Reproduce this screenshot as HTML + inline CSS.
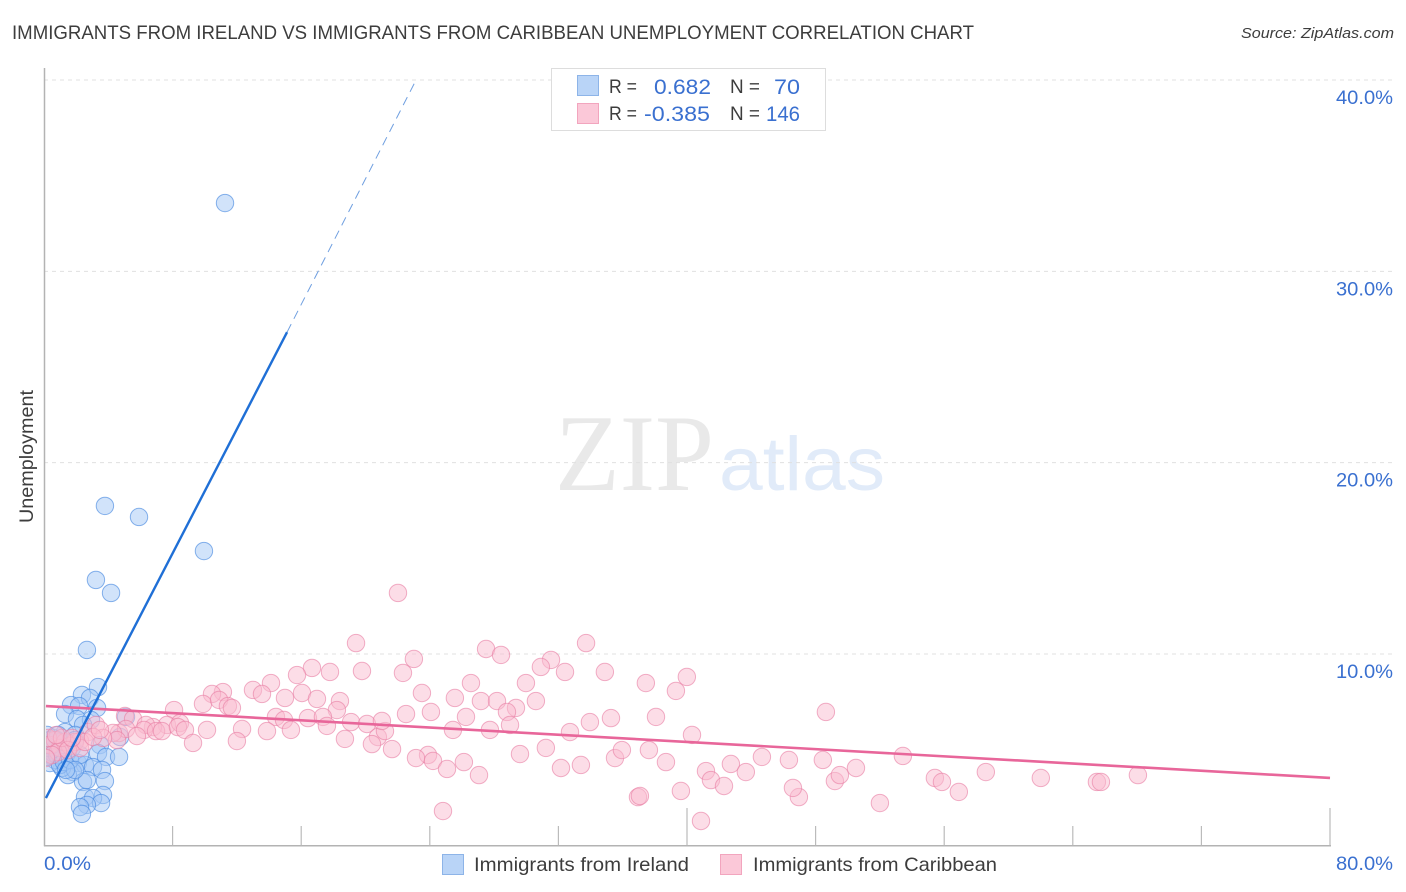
<!DOCTYPE html>
<html lang="en">
<head>
<meta charset="utf-8">
<title>Immigrants from Ireland vs Immigrants from Caribbean Unemployment Correlation Chart</title>
<style>
html,body{margin:0;padding:0;background:#fff;width:1406px;height:892px;overflow:hidden}
svg{display:block;font-family:"Liberation Sans",sans-serif}
</style>
</head>
<body>
<svg id="chart" width="1406" height="892" viewBox="0 0 1406 892" xmlns="http://www.w3.org/2000/svg">
  <defs>
    <clipPath id="plot-clip"><rect x="46" y="60" width="1290" height="785"/></clipPath>
  </defs>
  <rect x="0" y="0" width="1406" height="892" fill="#ffffff"/>
  <text x="12" y="39" font-size="19.5" fill="#3d3d3d" textLength="962" lengthAdjust="spacingAndGlyphs">IMMIGRANTS FROM IRELAND VS IMMIGRANTS FROM CARIBBEAN UNEMPLOYMENT CORRELATION CHART</text>
  <text x="1241" y="38" font-size="15" font-style="italic" fill="#3d3d3d" textLength="153" lengthAdjust="spacingAndGlyphs">Source: ZipAtlas.com</text>

  <g>
    <text x="555" y="490" font-family="'Liberation Serif',serif" font-size="109" fill="#e9e9e9" textLength="159" lengthAdjust="spacingAndGlyphs">ZIP</text>
    <text x="719" y="490" font-size="76" fill="#e1ebf9" textLength="166" lengthAdjust="spacingAndGlyphs">atlas</text>
  </g>

  <g id="grid"></g>
  <g id="axes"></g>
  <g id="ireland-points" clip-path="url(#plot-clip)"></g>
  <g id="caribbean-points" clip-path="url(#plot-clip)"></g>
  <g id="trends"></g>
  <g id="tick-labels"></g>

  <text transform="translate(33,456.5) rotate(-90)" text-anchor="middle" font-size="19" fill="#3d3d3d" textLength="133" lengthAdjust="spacingAndGlyphs">Unemployment</text>

  <g>
    <rect x="551.5" y="68.5" width="274" height="62" fill="#ffffff" stroke="#dddddd" stroke-width="1"/>
    <rect x="577.5" y="75.5" width="21" height="20" fill="#b9d4f7" stroke="#8db4e8"/>
    <rect x="577.5" y="103.5" width="21" height="20" fill="#fbc8d8" stroke="#f2a5be"/>
    <text x="609" y="93" font-size="19" fill="#3d3d3d" textLength="28" lengthAdjust="spacingAndGlyphs">R =</text>
    <text x="654" y="94" font-size="21.5" fill="#3a70d0" textLength="57" lengthAdjust="spacingAndGlyphs">0.682</text>
    <text x="730" y="93" font-size="19" fill="#3d3d3d" textLength="30" lengthAdjust="spacingAndGlyphs">N =</text>
    <text x="774" y="94" font-size="21.5" fill="#3a70d0" textLength="26" lengthAdjust="spacingAndGlyphs">70</text>
    <text x="609" y="120" font-size="19" fill="#3d3d3d" textLength="28" lengthAdjust="spacingAndGlyphs">R =</text>
    <text x="644" y="121" font-size="21.5" fill="#3a70d0" textLength="66" lengthAdjust="spacingAndGlyphs">-0.385</text>
    <text x="730" y="120" font-size="19" fill="#3d3d3d" textLength="30" lengthAdjust="spacingAndGlyphs">N =</text>
    <text x="766" y="121" font-size="21.5" fill="#3a70d0" textLength="34" lengthAdjust="spacingAndGlyphs">146</text>
  </g>

  <g>
    <g>
      <rect x="442.5" y="854.5" width="21" height="20" fill="#b9d4f7" stroke="#8db4e8"/>
      <text x="474" y="871" font-size="19.5" fill="#3d3d3d" textLength="215" lengthAdjust="spacingAndGlyphs">Immigrants from Ireland</text>
    </g>
    <g>
      <rect x="720.5" y="854.5" width="21" height="20" fill="#fbc8d8" stroke="#f2a5be"/>
      <text x="753" y="871" font-size="19.5" fill="#3d3d3d" textLength="244" lengthAdjust="spacingAndGlyphs">Immigrants from Caribbean</text>
    </g>
  </g>
</svg>

<script>
const yTickValues = [10, 20, 30, 40];
const xMinorTicks = [8, 16, 24, 32, 48, 56, 64, 72];
const xMajorTicks = [40, 80];
const xEdgeLabels = [0, 80];

const irelandTrendX = [0.12, 15.12, 23.14];
const irelandTrendY = [2.47, 26.82, 39.99];
const caribbeanTrendX = [0.12, 80];
const caribbeanTrendY = [7.28, 3.52];

const irelandPoints = [
[11.26,33.57],[3.79,17.74],[5.91,17.16],[9.95,15.38],[3.23,13.87],[4.17,13.19],[2.67,10.21],
[3.36,8.27],[2.36,7.86],[2.86,7.70],[3.30,7.18],[1.68,7.33],[2.18,7.28],[1.31,6.86],[2.05,6.60],
[2.92,6.55],[5.10,6.71],[2.43,6.29],[1.31,5.92],[1.93,5.77],[0.56,5.61],[4.73,5.66],[3.48,5.24],
[3.36,4.82],[3.86,4.62],[4.67,4.62],[2.11,4.30],[2.55,4.20],[3.05,4.09],[3.61,3.94],[1.80,3.83],
[1.49,3.67],[1.12,4.04],[2.43,3.31],[2.67,3.41],[3.79,3.36],[3.67,2.63],[2.55,2.52],[3.05,2.47],
[3.55,2.21],[2.67,2.11],[2.24,2.00],[2.36,1.64],[0.37,5.50],[0.68,5.14],[0.37,4.72],[0.68,4.46],
[1.12,4.62],[1.49,5.35],[1.93,5.50],[0.37,4.30],[1.18,5.09],[0.56,4.82],[0.81,5.50],[1.43,4.82],
[0.25,5.09],[0.81,4.72],[1.00,4.20],[0.19,5.77],[0.50,5.24],[1.00,5.40],[1.74,5.09],[0.12,4.62],
[1.24,4.35],[1.62,4.46],[0.87,5.77],[0.12,5.24],[2.24,4.72],[1.93,3.94],[1.37,3.94]
];

const caribbeanPoints = [
[22.02,13.19],[19.41,10.57],[33.72,10.57],[27.50,10.26],[28.43,9.95],[23.01,9.74],[31.54,9.69],
[30.91,9.32],[16.67,9.27],[17.79,9.06],[19.78,9.11],[15.74,8.90],[22.33,9.01],[32.41,9.06],
[34.89,9.06],[39.99,8.80],[37.44,8.48],[29.98,8.48],[26.56,8.48],[14.12,8.48],[13.00,8.12],
[13.56,7.91],[11.13,8.01],[10.45,7.91],[16.05,7.96],[14.99,7.70],[16.98,7.65],[39.31,8.07],
[23.51,7.96],[25.56,7.70],[27.18,7.54],[28.18,7.54],[30.60,7.54],[18.41,7.54],[9.89,7.39],
[8.09,7.07],[10.89,7.60],[11.44,7.28],[11.69,7.18],[48.64,6.97],[29.36,7.18],[28.80,6.97],
[22.52,6.86],[24.07,6.97],[18.22,7.07],[14.43,6.71],[14.93,6.55],[16.42,6.65],[17.35,6.71],
[19.10,6.44],[20.09,6.34],[26.25,6.71],[33.96,6.44],[35.27,6.65],[38.07,6.71],[40.31,5.77],
[5.04,6.76],[5.54,6.60],[7.65,6.29],[8.46,6.39],[6.78,6.18],[6.34,6.29],[10.14,6.03],[12.32,6.08],
[13.87,5.97],[15.36,6.03],[17.60,6.24],[4.67,5.87],[5.10,6.08],[6.22,6.03],[6.97,5.97],[7.34,5.97],
[8.33,6.18],[8.77,6.03],[9.27,5.35],[12.00,5.45],[4.29,5.87],[4.54,5.50],[5.78,5.71],[2.74,5.92],
[3.23,6.29],[2.24,5.45],[3.67,5.61],[18.72,5.56],[20.77,5.66],[21.21,5.97],[20.40,5.29],[21.65,5.03],
[23.89,4.72],[23.14,4.56],[24.20,4.41],[25.07,3.99],[26.12,4.35],[27.06,3.67],[29.61,4.77],[31.22,5.09],
[21.02,6.50],[28.99,6.29],[25.44,6.03],[27.74,6.03],[32.16,4.04],[33.40,4.20],[32.72,5.92],[35.52,4.56],
[35.95,4.98],[37.63,4.98],[38.69,4.35],[41.18,3.88],[41.49,3.41],[42.30,3.10],[42.73,4.25],[43.66,3.83],
[44.66,4.62],[46.34,4.46],[48.45,4.46],[49.20,3.36],[49.51,3.67],[50.51,4.04],[53.43,4.67],[55.42,3.52],
[55.86,3.31],[56.91,2.79],[58.59,3.83],[62.01,3.52],[65.50,3.31],[65.75,3.31],[68.05,3.67],[36.95,2.52],
[37.07,2.58],[39.62,2.84],[46.96,2.52],[46.59,3.00],[52.00,2.21],[40.87,1.27],[24.82,1.79],
[0.37,5.24],[0.68,5.50],[1.00,5.09],[1.31,5.40],[1.62,5.19],[0.87,4.88],[0.25,5.61],[1.93,5.40],
[0.50,4.72],[1.12,5.61],[1.49,4.98],[0.12,4.56],[2.24,5.09],[2.55,5.40],[0.75,5.76],[1.74,5.61],
[3.05,5.66],[3.48,6.03]
];

const SVG_NS = 'http://www.w3.org/2000/svg';
const plotLeft = 44, plotRight = 1330, plotBottom = 845.3, gridRight = 1393;
function xScale(v) { return plotLeft + (v / 80) * (plotRight - plotLeft); }
function yScale(v) { return plotBottom - (v / 40) * 765.3; }
function make(tag, parent, attrs) {
  const el = document.createElementNS(SVG_NS, tag);
  for (const k in attrs) el.setAttribute(k, attrs[k]);
  parent.appendChild(el);
  return el;
}
const pct = v => v.toFixed(1) + '%';

const gridG = document.getElementById('grid');
const axesG = document.getElementById('axes');
const labelsG = document.getElementById('tick-labels');

yTickValues.forEach(v => {
  const line = make('line', gridG, {x1: plotLeft, x2: gridRight, y1: yScale(v), y2: yScale(v), stroke: '#e0e0e0', 'stroke-width': 1, 'stroke-dasharray': '4 4'});
  
  
  const t = make('text', labelsG, {x: gridRight - 57, y: yScale(v) + 24, 'font-size': 19.5, fill: '#3a70d0', textLength: 57, lengthAdjust: 'spacingAndGlyphs'});
  t.textContent = pct(v);
  
  
});

const yAxis = make('line', axesG, {x1: plotLeft + 0.5, x2: plotLeft + 0.5, y1: 68, y2: plotBottom + 1, stroke: '#b3b3b3', 'stroke-width': 1.5});


const xAxis = make('line', axesG, {x1: plotLeft, x2: plotRight + 1, y1: plotBottom + 0.5, y2: plotBottom + 0.5, stroke: '#b3b3b3', 'stroke-width': 1.5});



xMinorTicks.forEach(v => {
  const tick = make('line', axesG, {x1: xScale(v), x2: xScale(v), y1: 826, y2: plotBottom, stroke: '#bbbbbb', 'stroke-width': 1.2});
  
  
});
xMajorTicks.forEach(v => {
  const tick = make('line', axesG, {x1: xScale(v), x2: xScale(v), y1: 808, y2: plotBottom, stroke: '#bbbbbb', 'stroke-width': 1.2});
  
  
});

xEdgeLabels.forEach((v, i) => {
  const w = i === 0 ? 47 : 57;
  const t = make('text', labelsG, {x: i === 0 ? xScale(v) : gridRight - w, y: 870, 'font-size': 19.5, fill: '#3a70d0', textLength: w, lengthAdjust: 'spacingAndGlyphs'});
  t.textContent = pct(v);
  
  
});

const irelandG = document.getElementById('ireland-points');
irelandPoints.forEach(p => {
  const c = make('circle', irelandG, {cx: xScale(p[0]), cy: yScale(p[1]), r: 8.7, fill: '#a3c8f5', 'fill-opacity': 0.5, stroke: '#4a8ae0', 'stroke-opacity': 0.65, 'stroke-width': 1});
  
  
});

const caribbeanG = document.getElementById('caribbean-points');
caribbeanPoints.forEach(p => {
  const c = make('circle', caribbeanG, {cx: xScale(p[0]), cy: yScale(p[1]), r: 8.7, fill: '#f9bcd0', 'fill-opacity': 0.5, stroke: '#e97fa5', 'stroke-opacity': 0.62, 'stroke-width': 1});
  
  
});

const trendsG = document.getElementById('trends');
const caribbeanLine = make('line', trendsG, {x1: xScale(caribbeanTrendX[0]), y1: yScale(caribbeanTrendY[0]), x2: xScale(caribbeanTrendX[1]), y2: yScale(caribbeanTrendY[1]), stroke: '#e8669a', 'stroke-width': 2.6});


const irelandSolid = make('line', trendsG, {x1: xScale(irelandTrendX[0]), y1: yScale(irelandTrendY[0]), x2: xScale(irelandTrendX[1]), y2: yScale(irelandTrendY[1]), stroke: '#1f6fd6', 'stroke-width': 2.4});


const irelandDashed = make('line', trendsG, {x1: xScale(irelandTrendX[1]), y1: yScale(irelandTrendY[1]), x2: xScale(irelandTrendX[2]), y2: yScale(irelandTrendY[2]), stroke: '#6f9fe0', 'stroke-width': 1, 'stroke-dasharray': '9 6'});


</script>
</body>
</html>
